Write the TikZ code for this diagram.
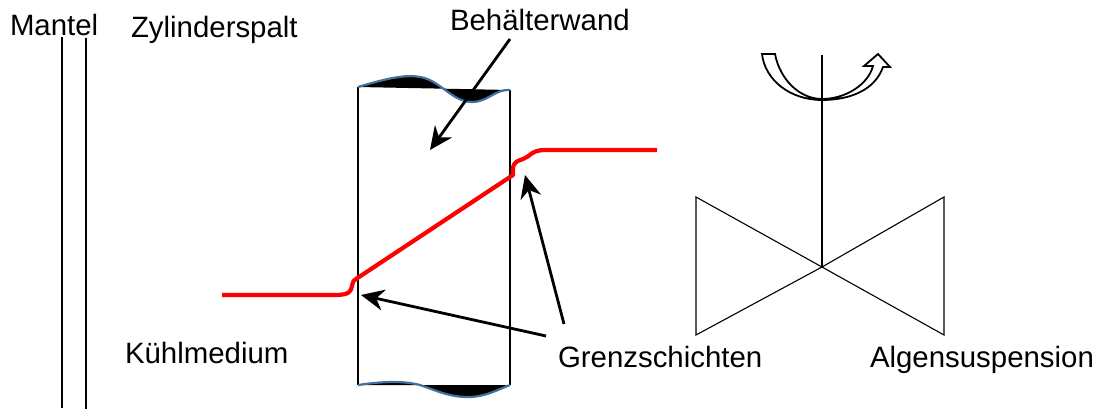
\documentclass[tikz,border=0pt]{standalone}
\usepackage{xcolor}
\usepackage{fontspec}
\setmainfont{Liberation Sans}
\definecolor{wavblue}{HTML}{41719C}
\usetikzlibrary{arrows.meta}
\tikzset{
  lbl/.style ={anchor=base west, inner sep=0pt, outer sep=0pt, font=\fontsize{29.4}{34}\selectfont},
  thinl/.style={draw=black, line width=1.1pt},
  arr/.style ={-{Stealth[length=23pt,width=21pt]}, line width=2.8pt, black},
  redl/.style={draw=red, line width=4.2pt},
  wav/.style ={draw=wavblue, line width=2.2pt, fill=black},
}
\begin{document}
\begin{tikzpicture}[x=1pt,y=-1pt]
  \useasboundingbox (0,0) rectangle (1098,409);
  % labels
  \node[lbl] (mantel) at (10,36) {Mantel};
  \node[lbl] (spalt) at (131,38) {Zylinderspalt};
  \node[lbl] (wand) at (450,31) {Behälterwand};
  \node[lbl] (kuehl) at (125,363) {Kühlmedium};
  \node[lbl] (grenz) at (558,367) {Grenzschichten};
  \node[lbl] (algen) at (870,367) {Algensuspension};
  % mantle
  \coordinate (m1a) at (62,37);
  \coordinate (m1b) at (62,408);
  \coordinate (m2a) at (86,38);
  \coordinate (m2b) at (86,409);
  \draw[thinl] (m1a) -- (m1b);
  \draw[thinl] (m2a) -- (m2b);
  % vessel wall
  \coordinate (wtl) at (358,87);
  \coordinate (wtr) at (510,90);
  \coordinate (wbl) at (358,385);
  \coordinate (wbr) at (510,385);
  \draw[thinl] (wtl) -- (wbl);
  \draw[thinl] (wtr) -- (wbr);
  \draw[wav] (wtl) .. controls (385,79) and (405,74) .. (420,77) .. controls (440,80) and (452,102) .. (472,102)
     .. controls (488,102) and (495,89) .. (wtr);
  \draw[wav] (wbl) .. controls (385,381) and (405,381) .. (420,385) .. controls (440,392) and (450,397) .. (468,397)
     .. controls (485,397) and (497,390) .. (wbr);
  % temperature profile
  \coordinate (r0) at (222,295);
  \coordinate (r1) at (335,295);
  \coordinate (r2) at (356,279);
  \coordinate (r3) at (513,175);
  \coordinate (r4) at (545,150);
  \coordinate (r5) at (657,150);
  \draw[redl, line join=round] (r0) -- (r1) .. controls (350,295) and (351,291) .. (352,286) .. controls (353,281) and (354,280) .. (r2)
     -- (r3) -- (513,167) .. controls (515,161) and (518,161) .. (523,159) .. controls (530,157) and (531,150) .. (r4) -- (r5);
  % arrows
  \coordinate (wand0) at (510,39);
  \coordinate (wand1) at (430,150);
  \coordinate (grenz0) at (546,336);
  \coordinate (grenz1) at (361,295);
  \coordinate (grenz2) at (564,324);
  \coordinate (grenz3) at (525,175);
  \draw[arr] (wand0) -- (wand1);
  \draw[arr] (grenz0) -- (grenz1);
  \draw[arr] (grenz2) -- (grenz3);
  % stirrer
  \coordinate (shaft) at (822,55);
  \coordinate (hub) at (822,267);
  \draw[thinl, line join=miter] (hub) -- (696,197) -- (696,335) -- (hub) -- (944,197) -- (944,335) -- cycle;
  % rotation
  \draw[draw=black, line width=1.8pt, fill=white, line join=miter]
    (762,54) -- (775,54) .. controls (780,80) and (800,99) .. (822,99)
    .. controls (845,99) and (868,85) .. (873,66) -- (864,66) -- (878,54) -- (890,67) -- (883,67)
    .. controls (875,90) and (850,100) .. (822,100) .. controls (790,100) and (765,80) .. cycle;
  \draw[thinl] (shaft) -- (hub);
\end{tikzpicture}
\end{document}
